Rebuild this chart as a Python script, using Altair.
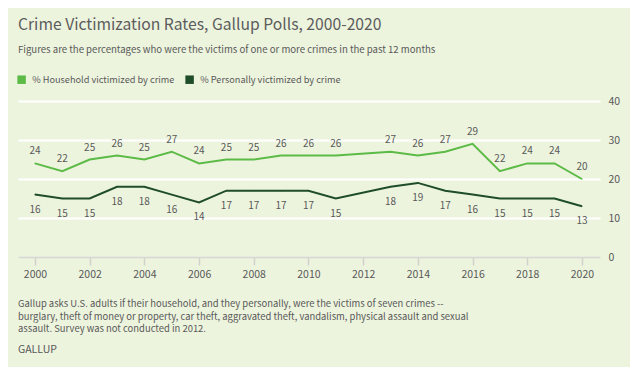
import altair as alt
import pandas as pd

years = [2000, 2001, 2002, 2003, 2004, 2005, 2006, 2007, 2008, 2009, 2010, 2011,
         2013, 2014, 2015, 2016, 2017, 2018, 2019, 2020]
household = [24, 22, 25, 26, 25, 27, 24, 25, 25, 26, 26, 26, 27, 26, 27, 29, 22, 24, 24, 20]
personal = [16, 15, 15, 18, 18, 16, 14, 17, 17, 17, 17, 15, 18, 19, 17, 16, 15, 15, 15, 13]
series_names = ["% Household victimized by crime", "% Personally victimized by crime"]
series_colors = ["#5cbb46", "#1f4d2a"]
x_ticks = list(range(2000, 2021, 2))
y_ticks = [0, 10, 20, 30, 40]

title_text = "Crime Victimization Rates, Gallup Polls, 2000-2020"
subtitle_text = "Figures are the percentages who were the victims of one or more crimes in the past 12 months"
footer_lines = [
    "Gallup asks U.S. adults if their household, and they personally, were the victims of seven crimes --",
    "burglary, theft of money or property, car theft, aggravated theft, vandalism, physical assault and sexual",
    "assault. Survey was not conducted in 2012.",
]
source_text = "GALLUP"

rows = []
for y, h, p in zip(years, household, personal):
    rows.append({"year": y, "value": h, "series": series_names[0]})
    rows.append({"year": y, "value": p, "series": series_names[1]})
df = pd.DataFrame(rows)

FONT = "Noto Sans CJK SC"
TXT = "#595959"
BG = "#edf4de"

x_enc = alt.X("year:Q", scale=alt.Scale(domain=[1999.38, 2020.66], nice=False, zero=False),
              axis=alt.Axis(values=x_ticks, format="d", title=None, grid=False,
                            domainColor="#d6d9d0", domainWidth=2, tickColor="#d0d3ca",
                            tickSize=8, tickWidth=1.5, labelPadding=4, labelFontSize=10.5,
                            labelColor=TXT, labelFont=FONT, zindex=1))
y_enc = alt.Y("value:Q", scale=alt.Scale(domain=[0, 40], nice=False),
              axis=alt.Axis(orient="right", values=y_ticks, title=None, domain=False,
                            ticks=False, gridColor="#ffffff", gridWidth=2, labelPadding=8,
                            labelFontSize=10.5, labelColor=TXT, labelFont=FONT, zindex=0))

color_scale = alt.Scale(domain=series_names, range=series_colors)

base = alt.Chart(df)

squares = base.mark_square(size=1, opacity=1).encode(
    x=x_enc, y=y_enc,
    fill=alt.Fill("series:N", scale=color_scale,
                  legend=alt.Legend(title=None, orient="none", legendX=-1, legendY=-26,
                                    direction="horizontal", symbolType="square",
                                    symbolSize=72, symbolOpacity=1, symbolStrokeWidth=0,
                                    labelFontSize=9.2, labelColor=TXT, labelFont=FONT,
                                    labelOffset=6, columnPadding=10, labelLimit=300)),
)

lines = base.mark_line(strokeWidth=2).encode(
    x=x_enc, y=y_enc,
    stroke=alt.Stroke("series:N", scale=color_scale, legend=None),
    detail="series:N",
)

lab_top = base.transform_filter(alt.datum.series == series_names[0]).mark_text(
    dy=-12, fontSize=10, color=TXT, font=FONT, baseline="middle"
).encode(x=x_enc, y=y_enc, text="value:Q")

lab_bot = base.transform_filter(alt.datum.series == series_names[1]).mark_text(
    dy=15, fontSize=10, color=TXT, font=FONT, baseline="middle"
).encode(x=x_enc, y=y_enc, text="value:Q")


def text_layer(txt, yv, size, color=TXT):
    return alt.Chart(pd.DataFrame({"t": [txt]})).mark_text(
        align="left", baseline="alphabetic", fontSize=size, color=color, font=FONT,
    ).encode(text="t:N", x=alt.value(0), y=alt.value(yv))


annots = [
    text_layer(title_text, -71.5, 15.7, color="#5c5c5c"),
    text_layer(subtitle_text, -48.5, 9.6),
]
for i, line in enumerate(footer_lines):
    annots.append(text_layer(line, 206.3 + i * 12.5, 9.45))
annots.append(text_layer(source_text, 251.5, 10.5))

chart = alt.layer(squares, lines, lab_top, lab_bot, *annots).properties(
    width=582, height=156,
    autosize=alt.AutoSizeParams(type="none"),
    padding={"left": 10, "top": 93, "right": 30, "bottom": 110},
    background=BG,
).configure_view(stroke=None).resolve_scale(fill="shared", stroke="shared")

chart.save("out.html", embed_options={"renderer": "svg", "actions": False})
